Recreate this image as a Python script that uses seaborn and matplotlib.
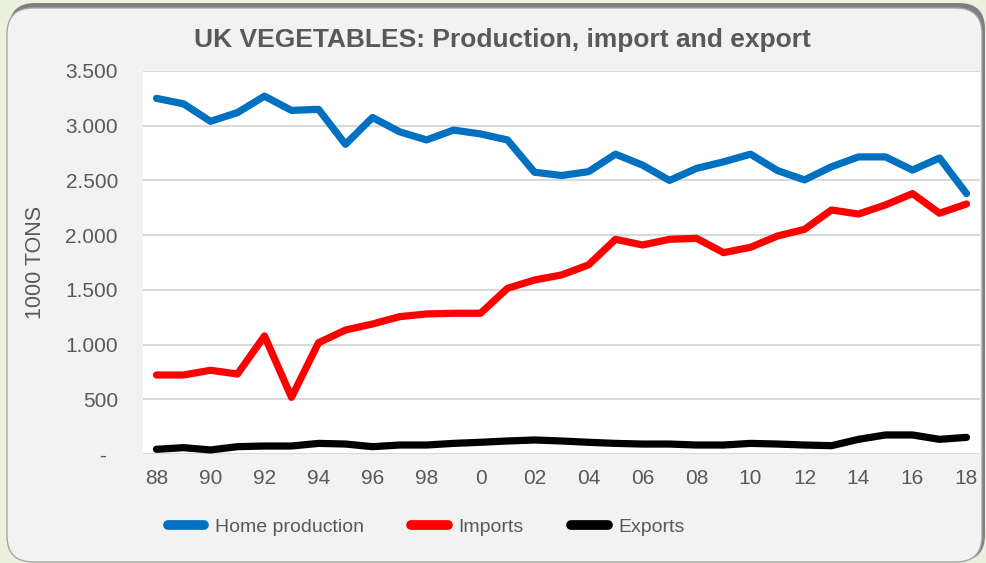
import pandas as pd
import matplotlib
matplotlib.use("Agg")
import matplotlib.pyplot as plt
import seaborn as sns
from matplotlib.lines import Line2D
from matplotlib.patches import FancyBboxPatch
from matplotlib.transforms import IdentityTransform

# data (1000 tons)
years = [1988, 1989, 1990, 1991, 1992, 1993, 1994, 1995, 1996, 1997, 1998,
         1999, 2000, 2001, 2002, 2003, 2004, 2005, 2006, 2007, 2008, 2009,
         2010, 2011, 2012, 2013, 2014, 2015, 2016, 2017, 2018]
home_production = [3250, 3200, 3040, 3120, 3270, 3140, 3150, 2830, 3075, 2945,
                   2870, 2960, 2925, 2870, 2575, 2545, 2580, 2740, 2640, 2500,
                   2610, 2670, 2740, 2590, 2505, 2625, 2715, 2715, 2595, 2705,
                   2380]
imports = [722, 722, 765, 731, 1079, 518, 1017, 1133, 1188, 1255, 1280,
           1286, 1286, 1514, 1590, 1636, 1728, 1962, 1910, 1962, 1971,
           1840, 1889, 1992, 2053, 2230, 2193, 2276, 2380, 2200, 2285]
exports = [43, 58, 37, 67, 73, 73, 97, 91, 67, 82, 82, 97, 107, 119, 128,
           119, 107, 97, 91, 91, 82, 82, 97, 91, 82, 76, 134, 174, 174, 134,
           152]

series_names = ["Home production", "Imports", "Exports"]
series_colors = ["#0070C0", "#FF0000", "#000000"]

x_ticks = [1988, 1990, 1992, 1994, 1996, 1998, 2000, 2002, 2004, 2006, 2008,
           2010, 2012, 2014, 2016, 2018]
x_tick_labels = ["88", "90", "92", "94", "96", "98", "0", "02", "04", "06",
                 "08", "10", "12", "14", "16", "18"]
y_ticks = [0, 500, 1000, 1500, 2000, 2500, 3000, 3500]
y_tick_labels = ["-  ", "500", "1.000", "1.500", "2.000", "2.500", "3.000",
                 "3.500"]

# long-form table for seaborn
df = pd.concat(
    [
        pd.DataFrame({"Year": years, "Value": vals, "Series": name})
        for name, vals in zip(series_names, [home_production, imports, exports])
    ],
    ignore_index=True,
)

sns.set_style("white")
plt.rcParams["font.family"] = ["Liberation Sans", "DejaVu Sans"]

text_grey = "#595959"

fig = plt.figure(figsize=(9.87, 5.63), dpi=100)
fig.patch.set_facecolor("#EBF1DE")

# rounded panel with a soft shadow (pixel coordinates), kept behind the axes
shadow = FancyBboxPatch(
    (9, 2), 976, 558,
    boxstyle="round,pad=0,rounding_size=26",
    transform=IdentityTransform(), facecolor="#7F7F7F", edgecolor="none",
    zorder=-10,
)
panel = FancyBboxPatch(
    (7, 1), 975, 554,
    boxstyle="round,pad=0,rounding_size=26",
    transform=IdentityTransform(), facecolor="#F2F2F2", edgecolor="#A6A6A6",
    linewidth=1, zorder=-9,
)
fig.patches.extend([shadow, panel])

ax = fig.add_axes([143 / 987, 1 - 454 / 563, 837 / 987, 383 / 563])
ax.set_facecolor("white")

sns.lineplot(
    data=df, x="Year", y="Value", hue="Series",
    palette=dict(zip(series_names, series_colors)),
    linewidth=5.2, legend=False, ax=ax,
    solid_capstyle="round", solid_joinstyle="round", zorder=3,
)

ax.set_xlim(1987.5, 2018.5)
ax.set_ylim(0, 3500)
ax.set_xticks(x_ticks)
ax.set_xticklabels(x_tick_labels)
ax.set_yticks(y_ticks)
ax.set_yticklabels(y_tick_labels)
ax.set_xlabel("")
ax.set_ylabel("")
ax.tick_params(axis="both", length=0, labelsize=15, colors=text_grey)
ax.tick_params(axis="x", pad=11)
ax.tick_params(axis="y", pad=18)

ax.yaxis.grid(True, color="#D9D9D9", linewidth=1.5)
ax.xaxis.grid(False)
for s in ax.spines.values():
    s.set_visible(False)

fig.text(0.509, 1 - 40 / 563, "UK VEGETABLES: Production, import and export",
         ha="center", va="center", fontsize=19, fontweight="bold",
         color=text_grey)
fig.text(36 / 987, 1 - 262 / 563, "1000 TONS", rotation=90,
         ha="center", va="center", fontsize=15.5, color=text_grey)

handles = [
    Line2D([0], [0], color=c, linewidth=7, solid_capstyle="round")
    for c in series_colors
]
fig.legend(
    handles, series_names,
    loc="center left", bbox_to_anchor=(158 / 987, 1 - 527 / 563),
    ncol=3, frameon=False, borderpad=0, handlelength=1.87,
    handletextpad=0.55, columnspacing=2.45,
    prop={"size": 14},
    labelcolor=text_grey,
)

fig.savefig("out.png", dpi=100, facecolor=fig.get_facecolor())
